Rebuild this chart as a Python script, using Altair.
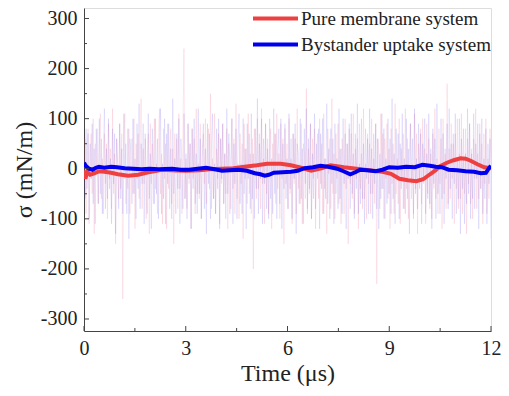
import altair as alt
import pandas as pd

series_names = ["Pure membrane system", "Bystander uptake system"]
series_colors = ["#EE4040", "#0000EE"]
noise_colors = ["#F04870", "#4A3AF0"]

raw_red = [
    -20, 60, -90, 40, 80, -110, 30, 70, -50, 100, -130, 50, -10, 80, -70, 40, 110, -60, 20, -90,
    70, -30, 50, -100, 90, -20, 40, -80, 120, -50, 30, -150, 60, 10, -60, 90, -40, 70, -260, 50,
    110, -70, 0, -40, 80, -90, 30, 60, -50, 100, -120, 50, -20, 70, -60, 30, 140, -80, 40, -30,
    60, -100, 20, 70, -130, 90, -30, 50, -70, 100, -40, 10, -90, 60, 120, -50, 30, -110, 80, -20,
    50, -120, 90, -40, 20, 80, -70, 40, -150, 70, -10, 60, -80, 110, -40, 20, -90, 70, 240, -60,
    20, -80, 90, -30, 50, -120, 80, -20, 60, -90, 120, -50, 10, -60, 90, -100, 40, 70, -30, 100,
    -70, 30, 80, -40, 150, -80, 20, -60, 110, -90, 40, -20, 70, -110, 60, -30, 90, -70, 30, -50,
    80, -120, 50, 20, -80, 100, -40, 60, -90, 130, -60, 10, -100, 70, -30, 50, -140, 90, -20, 40,
    -70, 110, -50, 30, -90, 60, -200, 80, 10, -60, 100, -40, 70, -80, 120, -30, 20, -110, 90, -50,
    60, -90, 30, 80, -120, 50, -10, 70, -70, 110, -40, 30, -100, 90, -20, 60, -150, 80, -30, 50,
    -80, 100, -50, 20, -110, 70, -30, 60, -90, 120, -40, 10, -70, 90, -110, 50, 30, -60, 160, -80,
    40, -50, 90, -100, 60, -20, 80, -120, 30, 70, -60, 100, -30, 50, -90, 110, -40, 20, -130, 80,
    -10, 60, -80, 140, -50, 30, -100, 70, -20, 90, -70, 40, -110, 60, 20, -90, 100, -40, 50, -150,
    80, -30, 70, -60, 110, -90, 40, -20, 60, -120, 90, -40, 30, -80, 120, -60, 10, -100, 70, -30,
    50, -90, 100, -50, 20, -70, 90, -230, 60, 30, -80, 110, -40, 70, -100, 60, -20, 90, -60, 40,
    -120, 80, -30, 50, -90, 130, -50, 20, -70, 100, -110, 40, -20, 70, -80, 120, -40, 60, -100, 30,
    90, -60, 10, -90, 110, -40, 70, -130, 50, -20, 80, -70, 100, -30, 40, -110, 90, -50, 60, -80,
    30, -100, 70, -40, 120, -60, 20, -90, 80, -30, 60, -120, 100, -50, 30, -80, 170, -70, 40, -60,
    90, -20, 50, -110, 70, -40, 100, -80, 30, -60, 110, -90, 20, -50, 80, -130, 60, -30, 90, -70,
    40, -100, 60, -20, 120, -80, 30, -60, 90, -40, 50, -110, 70, -30, 100, -90, 20, -60, 80, 10,
]
raw_blue = [
    20, -60, 80, -40, 70, -100, 50, -20, 90, -70, 40, -110, 80, 10, -70, 100, -50, 60, -90, 30,
    120, -80, 40, -60, 100, -40, 20, -110, 80, -30, 70, -130, 60, 10, -80, 90, -60, 40, -90, 110,
    -20, 50, -90, 80, -140, 60, 30, -70, 100, -50, 20, -100, 90, -40, 130, -80, 50, -30, 90, -110,
    70, -10, -90, 110, -60, 30, -120, 80, 20, -70, 100, -50, 60, -100, 40, 120, -90, 10, -60, 100,
    -110, 70, -30, 90, -80, 40, -100, 140, -50, 20, -90, 70, -40, 100, -110, 60, 10, -80, 110, -60,
    30, -100, 90, -20, 50, -120, 80, -40, 100, -70, 30, -90, 120, -50, 60, -100, 20, 90, -80, 40,
    -130, 90, -30, 70, -100, 50, 110, -60, 10, -90, 80, -40, 100, -120, 60, -20, 90, -70, 30, -100,
    120, -50, 70, -90, 20, 100, -110, 50, -30, 80, -100, 60, 110, -70, 10, -90, 100, -50, 40, -120,
    90, -20, 70, -80, 110, -60, 30, -100, 80, -40, 140, -90, 50, -20, 100, -110, 60, -30, 90, -80,
    40, -100, 100, -60, 20, -90, 120, -50, 70, -100, 30, 80, -70, 100, -120, 50, -40, 90, -60, 20,
    -80, 110, -40, 60, -100, 70, -20, 90, -130, 50, 30, -70, 100, -60, 40, -110, 80, -30, 120, -90,
    60, -40, 90, -100, 30, -60, 110, -80, 50, -20, 80, -120, 70, -40, 100, -90, 20, -60, 130, -70,
    40, -100, 80, -30, 60, -110, 90, -50, 20, -80, 120, -60, 40, -90, 100, -30, 70, -120, 50, -20,
    90, -80, 110, -50, 30, -100, 70, -40, 130, -90, 10, -70, 100, -60, 50, -110, 80, -20, 60, -90,
    120, -50, 40, -100, 70, -30, 90, -80, 60, -120, 30, -60, 110, -40, 80, -100, 20, -70, 100, -50,
    60, -90, 140, -60, 30, -110, 80, -20, 70, -100, 50, -40, 110, -80, 20, -90, 100, -60, 40, -130,
    90, -30, 60, -100, 120, -50, 20, -80, 90, -40, 70, -110, 50, -20, 100, -90, 30, -60, 110, -70,
    40, -120, 80, -30, 60, -100, 130, -50, 10, -90, 100, -60, 70, -110, 40, -20, 90, -80, 120, -40,
    50, -100, 70, -30, 110, -90, 20, -60, 100, -130, 60, -40, 80, -110, 30, -70, 120, -50, 90, -100,
    30, -60, 110, -80, 50, -20, 90, -120, 70, -40, 100, -90, 20, -60, 80, -110, 50, -30, 60, -140,
]

# smoothed traces
red_t = [0, 0.04, 0.1, 0.18, 0.3, 0.45, 0.6, 0.8, 1.0, 1.3, 1.6, 1.9, 2.3, 2.6, 3.0, 3.4, 3.7, 4.05, 4.4,
         4.85, 5.1, 5.4, 5.8, 6.1, 6.4, 6.7, 7.0, 7.27, 7.66, 8.04, 8.4, 8.8, 9.05, 9.3, 9.55, 9.8, 10.0,
         10.2, 10.35, 10.5, 10.7, 10.9, 11.1, 11.25, 11.4, 11.6, 11.8, 12.0]
red_v = [-3, -20, -6, -12, -9, -5, -6, -8, -11, -14, -12, -7, -2, -3, -4, -3, -1, 0, 1,
         5, 7, 10, 10, 7, 2, -4, 1, 7, 3, 0, -3, -6, -10, -20, -23, -25, -21,
         -11, -4, 5, 12, 17, 21, 20, 16, 9, 3, 1]
blue_t = [0, 0.05, 0.1, 0.15, 0.25, 0.35, 0.44, 0.6, 0.8, 0.97, 1.2, 1.45, 1.7, 1.94, 2.2, 2.6, 2.85, 3.1,
          3.35, 3.6, 3.85, 4.07, 4.3, 4.55, 4.8, 5.04, 5.2, 5.33, 5.45, 5.6, 5.85, 6.1, 6.3, 6.5, 6.75, 6.97,
          7.2, 7.46, 7.65, 7.85, 8.0, 8.14, 8.35, 8.6, 8.8, 9.0, 9.25, 9.5, 9.75, 9.98, 10.2, 10.37, 10.55,
          10.75, 11.0, 11.25, 11.5, 11.7, 11.85, 11.95, 12.0]
blue_v = [12, 6, 3, 0, -2, 2, 4, 2, 4, 3, 1, 0, -1, 0, -1, 0, -2, -2,
          0, 2, -1, -4, -3, -2, -4, -9, -11, -14, -12, -8, -7, -6, -4, 1, 3, 6,
          4, 0, -5, -11, -7, -2, -3, -5, -2, 3, 2, 4, 3, 8, 6, 4, 3,
          -2, -3, -5, -6, -9, -8, 2, 6]

# axis tick positions
x_major = [0, 3, 6, 9, 12]
x_minor = [1.5, 4.5, 7.5, 10.5]
y_major = [-300, -200, -100, 0, 100, 200, 300]
y_minor = [-250, -150, -50, 50, 150, 250]

raw_rows = []
for k, (name, vals) in enumerate(zip(series_names, [raw_red, raw_blue])):
    m = len(vals)
    for i, v in enumerate(vals):
        raw_rows.append({"t": i * 12.0 / (m - 1), "v": v, "series": name, "k": k})
raw_df = pd.DataFrame(raw_rows)

sm_rows = []
for k, (name, ts, vs) in enumerate(zip(series_names, [red_t, blue_t], [red_v, blue_v])):
    for t, v in zip(ts, vs):
        sm_rows.append({"t": t, "v": v, "series": name, "k": k})
sm_df = pd.DataFrame(sm_rows)

FONT = "Liberation Serif"
W = 407
H = 323
xs = alt.Scale(domain=[0, 12], nice=False, zero=False)
ys = alt.Scale(domain=[-323.96, 320.96], nice=False, zero=False)

x_axis = alt.Axis(values=x_major, ticks=False, grid=False, title="Time (μs)", labelExpr="datum.value",
                  labelFont=FONT, labelFontSize=20, labelColor="#222", labelPadding=7,
                  titleFont=FONT, titleFontSize=24, titleFontWeight="normal", titleColor="#222",
                  titlePadding=3, domainColor="#444", labelFlush=False)
y_axis = alt.Axis(values=y_major, ticks=False, grid=False, title="σ (mN/m)", labelExpr="datum.value",
                  labelFont=FONT, labelFontSize=20, labelColor="#222", labelPadding=7,
                  titleFont=FONT, titleFontSize=24, titleFontWeight="normal", titleColor="#222",
                  titlePadding=4, domainColor="#444", labelFlush=False)

noise = alt.Chart(raw_df).mark_line(strokeWidth=0.8, opacity=0.15, clip=True).encode(
    x=alt.X("t:Q", scale=xs, axis=x_axis),
    y=alt.Y("v:Q", scale=ys, axis=y_axis),
    detail="series:N",
    stroke=alt.Stroke("series:N", scale=alt.Scale(domain=series_names, range=noise_colors), legend=None),
    order="k:Q",
)

smooth = alt.Chart(sm_df).mark_line(strokeWidth=4, clip=True).encode(
    x=alt.X("t:Q", scale=xs),
    y=alt.Y("v:Q", scale=ys),
    color=alt.Color("series:N", scale=alt.Scale(domain=series_names, range=series_colors),
                    sort=series_names,
                    legend=alt.Legend(title=None, orient="none", legendX=197, legendY=1,
                                      symbolType="M-5,0L1,0", symbolSize=225, symbolStrokeWidth=4,
                                      symbolFillColor="transparent",
                                      labelFont=FONT, labelFontSize=19, labelColor="#222",
                                      labelLimit=400, labelOffset=1, rowPadding=6, padding=0)),
    order="k:Q",
)

xt_major = alt.Chart(pd.DataFrame({"t": x_major})).mark_rule(color="#444", strokeWidth=1).encode(
    x=alt.X("t:Q", scale=xs), y=alt.value(H), y2=alt.value(H - 5))
xt_minor = alt.Chart(pd.DataFrame({"t": x_minor})).mark_rule(color="#444", strokeWidth=1).encode(
    x=alt.X("t:Q", scale=xs), y=alt.value(H), y2=alt.value(H - 3))
yt_major = alt.Chart(pd.DataFrame({"v": y_major})).mark_rule(color="#444", strokeWidth=1).encode(
    y=alt.Y("v:Q", scale=ys), x=alt.value(0), x2=alt.value(5))
yt_minor = alt.Chart(pd.DataFrame({"v": y_minor})).mark_rule(color="#444", strokeWidth=1).encode(
    y=alt.Y("v:Q", scale=ys), x=alt.value(0), x2=alt.value(3))

chart = alt.layer(noise, smooth, xt_major, xt_minor, yt_major, yt_minor).resolve_scale(
    color="independent"
).properties(
    width=W, height=H,
    autosize=alt.AutoSizeParams(type="none"),
    padding={"left": 76, "top": 0, "right": 10, "bottom": 57},
).configure_view(stroke="#444", strokeWidth=1).configure(background="white")

chart.save("out.html", embed_options={"renderer": "svg", "actions": False})
